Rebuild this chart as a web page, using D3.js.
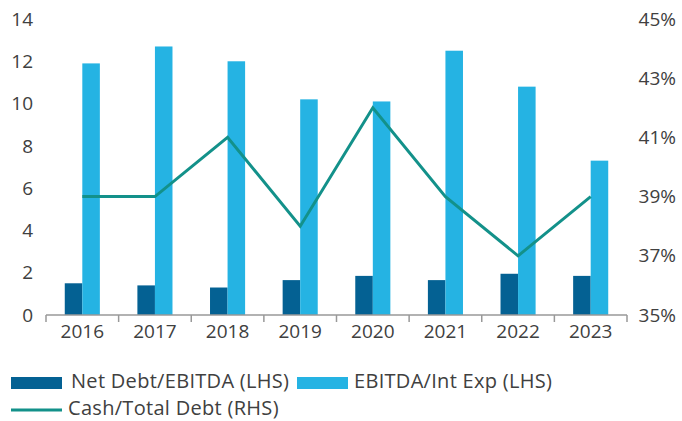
<!DOCTYPE html>
<html>
<head>
<meta charset="utf-8">
<script src="https://cdn.jsdelivr.net/npm/d3@7"></script>
<style>
  body { margin: 0; background: #fff; }
  svg text { font-family: "Open Sans", sans-serif; fill: #404040; }
</style>
</head>
<body>
<div id="chart"></div>
<script>
// data
const years = ["2016", "2017", "2018", "2019", "2020", "2021", "2022", "2023"];
const netDebtEbitda = [1.5, 1.4, 1.3, 1.65, 1.85, 1.65, 1.95, 1.85];
const ebitdaIntExp = [11.9, 12.7, 12.0, 10.2, 10.1, 12.5, 10.8, 7.3];
const cashTotalDebt = [39, 39, 41, 38, 42, 39, 37, 39];
const leftTicks = [0, 2, 4, 6, 8, 10, 12, 14];
const rightTicks = [35, 37, 39, 41, 43, 45];

const width = 682, height = 421;
const margin = { top: 19, right: 55, bottom: 106, left: 46 };
const plotBottom = height - margin.bottom;

const svg = d3.select("#chart")
    .append("svg")
    .attr("width", width)
    .attr("height", height);

// scales
const x = d3.scaleBand()
    .domain(years)
    .range([margin.left, width - margin.right])
    .padding(0);

const xSub = d3.scaleBand()
    .domain(["nd", "ei"])
    .range([0, x.bandwidth()])
    .paddingInner(0)
    .paddingOuter(1.07);

const yLeft = d3.scaleLinear().domain([0, 14]).range([plotBottom, margin.top]);
const yRight = d3.scaleLinear().domain([35, 45]).range([plotBottom, margin.top]);

// bars
const colors = { nd: "#046193", ei: "#25b3e3" };

svg.append("g").selectAll("rect")
    .data(years)
    .enter().append("rect")
    .attr("x", d => x(d) + xSub("nd"))
    .attr("width", xSub.bandwidth())
    .attr("y", (d, i) => yLeft(netDebtEbitda[i]))
    .attr("height", (d, i) => plotBottom - yLeft(netDebtEbitda[i]))
    .attr("fill", colors.nd);

svg.append("g").selectAll("rect")
    .data(years)
    .enter().append("rect")
    .attr("x", d => x(d) + xSub("ei"))
    .attr("width", xSub.bandwidth())
    .attr("y", (d, i) => yLeft(ebitdaIntExp[i]))
    .attr("height", (d, i) => plotBottom - yLeft(ebitdaIntExp[i]))
    .attr("fill", colors.ei);

// line
const line = d3.line()
    .x((d, i) => x(years[i]) + x.bandwidth() / 2)
    .y(d => yRight(d));

svg.append("path")
    .datum(cashTotalDebt)
    .attr("d", line)
    .attr("fill", "none")
    .attr("stroke", "#13918a")
    .attr("stroke-width", 3);

// x axis
const xAxis = svg.append("g")
    .attr("transform", "translate(0," + plotBottom + ")");
xAxis.append("line")
    .attr("x1", margin.left).attr("x2", width - margin.right)
    .attr("stroke", "#999").attr("stroke-width", 1.5);
xAxis.selectAll(".tick-mark")
    .data(years.concat(["end"]))
    .enter().append("line")
    .attr("x1", d => d === "end" ? x.range()[1] : x(d))
    .attr("x2", d => d === "end" ? x.range()[1] : x(d))
    .attr("y1", 0).attr("y2", 7)
    .attr("stroke", "#999").attr("stroke-width", 1.5);
xAxis.selectAll(".year")
    .data(years)
    .enter().append("text")
    .attr("x", d => x(d) + x.bandwidth() / 2)
    .attr("y", 23)
    .attr("text-anchor", "middle")
    .style("font-size", "19px")
    .text(d => d);

// left axis labels
svg.append("g").selectAll("text")
    .data(leftTicks)
    .enter().append("text")
    .attr("x", 33)
    .attr("y", d => yLeft(d))
    .attr("dy", "0.35em")
    .attr("text-anchor", "end")
    .style("font-size", "19px")
    .text(d => d);

// right axis labels
svg.append("g").selectAll("text")
    .data(rightTicks)
    .enter().append("text")
    .attr("x", 676)
    .attr("y", d => yRight(d))
    .attr("dy", "0.35em")
    .attr("text-anchor", "end")
    .style("font-size", "19px")
    .text(d => d + "%");

// legend
const legend = svg.append("g");
const legendItems = [
    { label: "Net Debt/EBITDA (LHS)", type: "rect", color: colors.nd, x: 11, y: 383, tx: 71 },
    { label: "EBITDA/Int Exp (LHS)", type: "rect", color: colors.ei, x: 297, y: 383, tx: 354 },
    { label: "Cash/Total Debt (RHS)", type: "line", color: "#13918a", x: 11, y: 410, tx: 68 }
];
legendItems.forEach(item => {
    if (item.type === "rect") {
        legend.append("rect")
            .attr("x", item.x).attr("y", item.y - 6)
            .attr("width", 51).attr("height", 12)
            .attr("fill", item.color);
    } else {
        legend.append("line")
            .attr("x1", item.x).attr("x2", item.x + 51)
            .attr("y1", item.y).attr("y2", item.y)
            .attr("stroke", item.color).attr("stroke-width", 3);
    }
    legend.append("text")
        .attr("x", item.tx)
        .attr("y", item.y + 5)
        .style("font-size", "20px")
        .style("letter-spacing", "0.3px")
        .text(item.label);
});
</script>
</body>
</html>
